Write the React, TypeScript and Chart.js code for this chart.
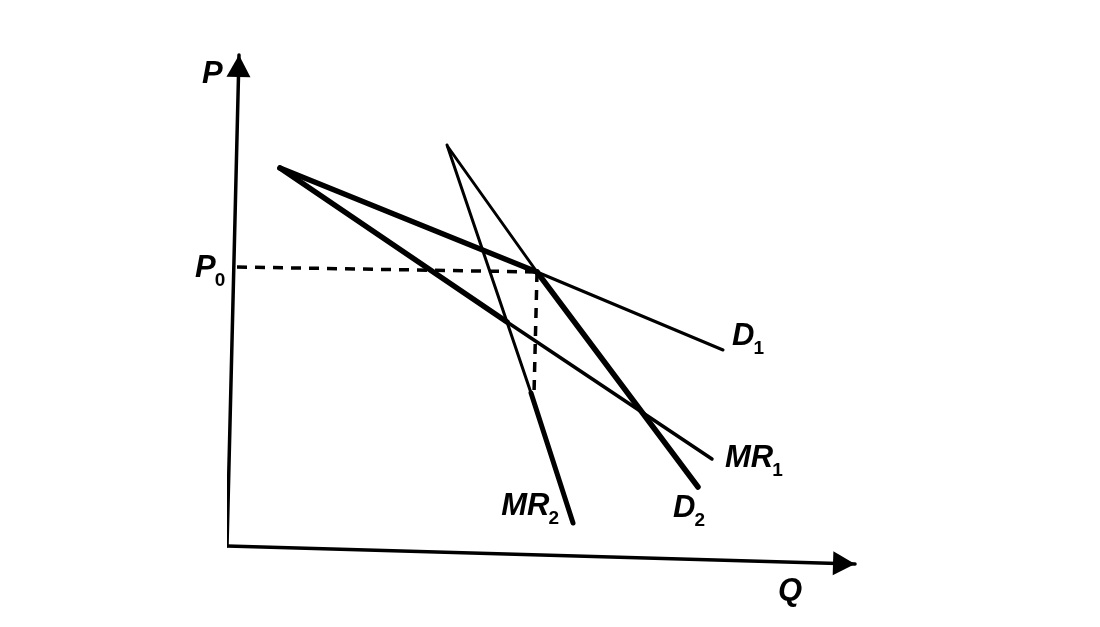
import React, { useEffect, useRef } from "react";
import { Chart, registerables } from "chart.js";

Chart.register(...registerables);

// Economic units: Q (quantity) on x, P (price) on y
const axisYLine = [{ x: 0, y: 0 }, { x: 2.0, y: 98.2 }];
const axisXLine = [{ x: 0, y: 0 }, { x: 104.67, y: -3.6 }];

const d1Points = [{ x: 8.83, y: 75.6 }, { x: 51.67, y: 54.8 }, { x: 82.67, y: 39.2 }];
const mr1Points = [{ x: 8.83, y: 75.6 }, { x: 46.67, y: 44.8 }, { x: 80.83, y: 17.4 }];
const d2Points = [{ x: 36.83, y: 79.8 }, { x: 51.67, y: 54.8 }, { x: 78.5, y: 11.8 }];
const mr2Points = [{ x: 36.67, y: 80.2 }, { x: 50.67, y: 30.6 }, { x: 57.67, y: 4.6 }];
const p0Dashed = [{ x: 1.67, y: 55.8 }, { x: 51.67, y: 54.8 }];
const q0Dashed = [{ x: 51.67, y: 54.8 }, { x: 51.17, y: 30.6 }];

const d1Widths = [5.5, 3];
const mr1Widths = [5.5, 3.5];
const d2Widths = [3, 5.5];
const mr2Widths = [3, 5];

const FONT = "'Liberation Sans', Arial, sans-serif";

export default function App() {
  const ref = useRef<HTMLCanvasElement | null>(null);

  useEffect(() => {
    const canvas = ref.current;
    if (!canvas) return;

    const lineDs = (label: string, data: any[], widths: number[]) => ({
      label,
      data,
      showLine: true,
      borderColor: "#000",
      backgroundColor: "#000",
      pointRadius: 0,
      borderWidth: widths[0],
      borderCapStyle: "round",
      tension: 0,
      segment: { borderWidth: (ctx: any) => widths[ctx.p0DataIndex] },
    });

    const labelPlugin = {
      id: "labels",
      afterDatasetsDraw(chart: any) {
        const c = chart.ctx;
        const xs = chart.scales.x;
        const ys = chart.scales.y;
        const px = (p: any) => [xs.getPixelForValue(p.x), ys.getPixelForValue(p.y)];

        // arrowheads
        const arrow = (from: any, to: any) => {
          const [x0, y0] = px(from);
          const [x1, y1] = px(to);
          const a = Math.atan2(y1 - y0, x1 - x0);
          const len = 22, hw = 12;
          c.save();
          c.fillStyle = "#000";
          c.beginPath();
          c.moveTo(x1, y1);
          c.lineTo(x1 - len * Math.cos(a) - hw * Math.sin(a), y1 - len * Math.sin(a) + hw * Math.cos(a));
          c.lineTo(x1 - len * Math.cos(a) + hw * Math.sin(a), y1 - len * Math.sin(a) - hw * Math.cos(a));
          c.closePath();
          c.fill();
          c.restore();
        };
        arrow(axisYLine[0], axisYLine[1]);
        arrow(axisXLine[0], axisXLine[1]);

        const label = (main: string, sub: string, anchor: any, dx: number, dy: number, alignRight = false) => {
          const [ax, ay] = px(anchor);
          c.save();
          c.fillStyle = "#000";
          c.textBaseline = "alphabetic";
          c.font = `italic bold 31px ${FONT}`;
          const wMain = c.measureText(main).width;
          c.font = `bold 19px ${FONT}`;
          const wSub = sub ? c.measureText(sub).width : 0;
          let x = ax + dx;
          if (alignRight) x = x - wMain - wSub;
          const y = ay + dy;
          c.font = `italic bold 31px ${FONT}`;
          c.fillText(main, x, y);
          if (sub) {
            c.font = `bold 19px ${FONT}`;
            c.fillText(sub, x + wMain - 1, y + 9);
          }
          c.restore();
        };

        label("P", "", axisYLine[1], -37, 28);
        label("Q", "", axisXLine[1], -77, 36);
        label("P", "0", p0Dashed[0], -42, 10);
        label("D", "1", d1Points[2], 9, -5);
        label("MR", "1", mr1Points[2], 13, 8);
        label("MR", "2", mr2Points[2], -13, -8, true);
        label("D", "2", d2Points[2], -25, 30);
      },
    };

    const chart = new Chart(canvas, {
      type: "scatter",
      data: {
        datasets: [
          lineDs("Y axis", axisYLine, [3.5]),
          lineDs("X axis", axisXLine, [3.5]),
          lineDs("D1", d1Points, d1Widths),
          lineDs("MR1", mr1Points, mr1Widths),
          lineDs("D2", d2Points, d2Widths),
          lineDs("MR2", mr2Points, mr2Widths),
          { ...lineDs("P0", p0Dashed, [3.5]), borderDash: [10, 8], borderCapStyle: "butt", segment: {} },
          { ...lineDs("Q0", q0Dashed, [3.5]), borderDash: [10, 8], borderCapStyle: "butt", segment: {} },
        ] as any,
      },
      options: {
        responsive: false,
        animation: false,
        layout: { padding: { left: 227, right: 243, top: 46, bottom: 56 } },
        plugins: {
          legend: { display: false },
          tooltip: { enabled: false },
        },
        scales: {
          x: { type: "linear", min: 0, max: 105, display: false },
          y: { type: "linear", min: -5, max: 100, display: false },
        },
      },
      plugins: [labelPlugin],
    });

    return () => chart.destroy();
  }, []);

  return (
    <div style={{ position: "absolute", left: 0, top: 0, width: 1100, height: 627, background: "#fff" }}>
      <canvas ref={ref} width={1100} height={627} style={{ display: "block" }} />
    </div>
  );
}
